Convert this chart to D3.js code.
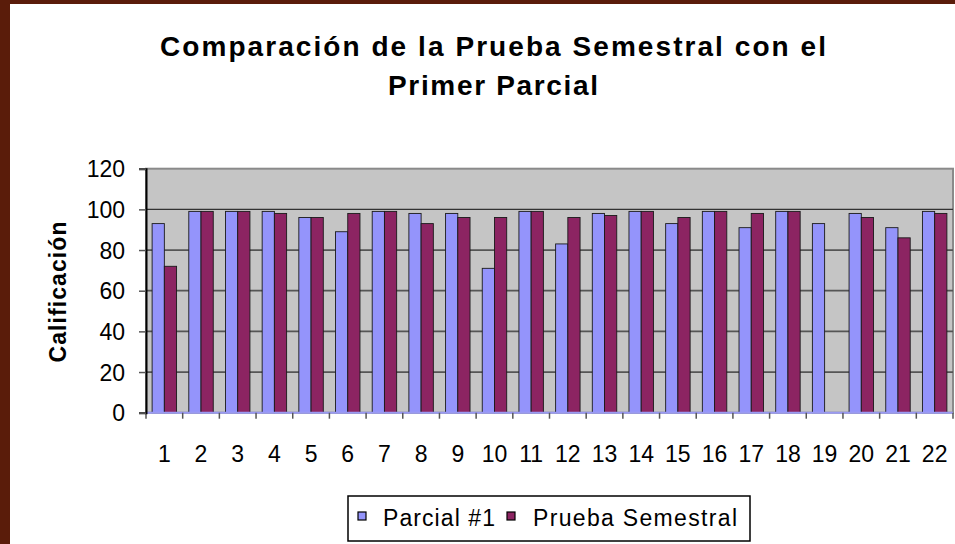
<!DOCTYPE html>
<html>
<head>
<meta charset="utf-8">
<script src="https://cdn.jsdelivr.net/npm/d3@7"></script>
<style>
  html, body { margin: 0; padding: 0; background: #fff; }
  svg { display: block; }
  text { font-family: Arial, "Liberation Sans", sans-serif; fill: #000; }
</style>
</head>
<body>
<svg id="chart" width="955" height="544"></svg>
<script>
// Data
const categories = ["1","2","3","4","5","6","7","8","9","10","11","12","13","14","15","16","17","18","19","20","21","22"];
const parcial1 = [93, 99, 99, 99, 96, 89, 99, 98, 98, 71, 99, 83, 98, 99, 93, 99, 91, 99, 93, 98, 91, 99];
const semestral = [72, 99, 99, 98, 96, 98, 99, 93, 96, 96, 99, 96, 97, 99, 96, 99, 98, 99, 0, 96, 86, 98];
const seriesNames = ["Parcial #1", "Prueba Semestral"];
const yTicks = [0, 20, 40, 60, 80, 100, 120];
const titleLines = ["Comparación de la Prueba Semestral con el", "Primer Parcial"];
const yTitle = "Calificación";

const colors = ["#9494fb", "#8c2462"];

const svg = d3.select("#chart");

// frame
svg.append("rect").attr("x", 0).attr("y", 0).attr("width", 955).attr("height", 544).attr("fill", "#5a1c0a");
svg.append("rect").attr("x", 10).attr("y", 4).attr("width", 945).attr("height", 540).attr("fill", "#ffffff");

// title
svg.append("text").attr("x", 493).attr("y", 56).attr("text-anchor", "middle")
  .attr("font-size", 28).attr("font-weight", "bold")
  .attr("textLength", 666).attr("lengthAdjust", "spacing")
  .text(titleLines[0]);
svg.append("text").attr("x", 493).attr("y", 95).attr("text-anchor", "middle")
  .attr("font-size", 28).attr("font-weight", "bold")
  .attr("textLength", 210).attr("lengthAdjust", "spacing")
  .text(titleLines[1]);

// plot area
const plotLeft = 146, plotRight = 953, plotTop = 168.7, plotBottom = 412.7;
const y = d3.scaleLinear().domain([0, 120]).range([plotBottom, plotTop]);
const x0 = d3.scaleBand().domain(categories).range([plotLeft, plotRight]).paddingInner(1/3).paddingOuter(1/6);
const x1 = d3.scaleBand().domain([0, 1]).range([0, x0.bandwidth()]);

svg.append("rect").attr("x", plotLeft).attr("y", plotTop).attr("width", plotRight - plotLeft).attr("height", plotBottom - plotTop)
  .attr("fill", "#c5c5c5").attr("stroke", "#8a8a8a").attr("stroke-width", 2);

// gridlines
svg.append("g").selectAll("line").data(yTicks.filter(t => t > 0 && t < 120)).join("line")
  .attr("x1", plotLeft).attr("x2", plotRight)
  .attr("y1", d => y(d)).attr("y2", d => y(d))
  .attr("stroke", d => d === 100 ? "#333" : "#555").attr("stroke-width", d => d === 100 ? 1.2 : 1.8);

// bars
const rows = categories.map((c, i) => ({ c, vals: [parcial1[i], semestral[i]] }));
const groups = svg.append("g").selectAll("g").data(rows).join("g")
  .attr("transform", d => `translate(${x0(d.c)},0)`);
groups.selectAll("rect").data(d => d.vals.map((v, k) => ({ v, k })).filter(d => d.v > 0)).join("rect")
  .attr("x", d => x1(d.k))
  .attr("y", d => y(d.v))
  .attr("width", x1.bandwidth())
  .attr("height", d => y(0) - y(d.v))
  .attr("fill", d => colors[d.k])
  .attr("stroke", "#1a1a1a").attr("stroke-width", 0.9);

// x axis line
svg.append("line").attr("x1", plotLeft).attr("x2", plotRight).attr("y1", plotBottom).attr("y2", plotBottom)
  .attr("stroke", "#9a9af2").attr("stroke-width", 2);

// x tick marks at category boundaries
const step = x0.step();
svg.append("g").selectAll("line").data(d3.range(categories.length + 1)).join("line")
  .attr("x1", d => plotLeft + d * step).attr("x2", d => plotLeft + d * step)
  .attr("y1", plotBottom).attr("y2", plotBottom + 6)
  .attr("stroke", "#555").attr("stroke-width", 1.5);

// y axis
const yAxis = d3.axisLeft(y).tickValues(yTicks).tickSize(7).tickPadding(14);
const ga = svg.append("g").attr("transform", `translate(${plotLeft},0)`).call(yAxis);
ga.select(".domain").attr("stroke", "#000").attr("stroke-width", 2);
ga.selectAll(".tick line").attr("stroke", "#555").attr("stroke-width", 1.5);
ga.selectAll(".tick text").attr("font-size", 23).attr("font-family", "Arial, 'Liberation Sans', sans-serif")
  .attr("fill", "#000").attr("dy", "0.36em");

// x labels
svg.append("g").selectAll("text").data(categories).join("text")
  .attr("x", d => x0(d) + x0.bandwidth() / 2)
  .attr("y", 462)
  .attr("text-anchor", "middle")
  .attr("font-size", 23)
  .text(d => d);

// y title
svg.append("text")
  .attr("transform", "translate(66,292) rotate(-90)")
  .attr("text-anchor", "middle")
  .attr("font-size", 23).attr("font-weight", "bold")
  .attr("textLength", 141).attr("lengthAdjust", "spacing")
  .text(yTitle);

// legend
const lg = svg.append("g");
lg.append("rect").attr("x", 348).attr("y", 496).attr("width", 402).attr("height", 45)
  .attr("fill", "#fff").attr("stroke", "#000").attr("stroke-width", 1.5);
const legendItems = [
  { name: seriesNames[0], sx: 358, tx: 383, w: 112 },
  { name: seriesNames[1], sx: 507, tx: 533, w: 204 }
];
legendItems.forEach((it, k) => {
  lg.append("rect").attr("x", it.sx).attr("y", 512).attr("width", 8).attr("height", 8)
    .attr("fill", colors[k]).attr("stroke", "#000").attr("stroke-width", 1.2);
  lg.append("text").attr("x", it.tx).attr("y", 526).attr("font-size", 23)
    .attr("textLength", it.w).attr("lengthAdjust", "spacing")
    .text(it.name);
});
</script>
</body>
</html>
